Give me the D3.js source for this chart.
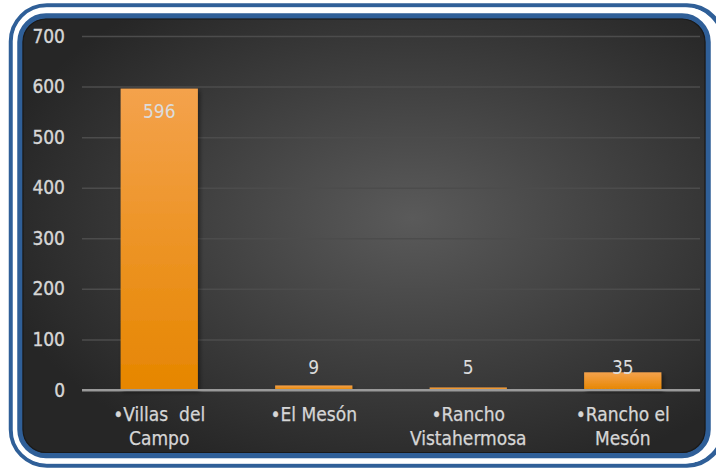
<!DOCTYPE html>
<html>
<head>
<meta charset="utf-8">
<script src="https://cdn.jsdelivr.net/npm/d3@7"></script>
<style>
  html, body { margin: 0; padding: 0; background: #ffffff; }
  svg { display: block; }
</style>
</head>
<body>
<svg id="chart" width="716" height="469"></svg>
<script>
// Population by locality
const categories = [["•Villas  del", "Campo"], ["•El Mesón"], ["•Rancho", "Vistahermosa"], ["•Rancho el", "Mesón"]];
const values = [596, 9, 5, 35];
const yTicks = [0, 100, 200, 300, 400, 500, 600, 700];

const svg = d3.select("#chart");
const defs = svg.append("defs");

// Panel background: dark with a soft lighter centre
const bg = defs.append("radialGradient").attr("id", "bg")
  .attr("cx", "57%").attr("cy", "46%").attr("r", "62%");
bg.append("stop").attr("offset", "0%").attr("stop-color", "#5a5a5a");
bg.append("stop").attr("offset", "100%").attr("stop-color", "#262626");

const barGrad = defs.append("linearGradient").attr("id", "bar")
  .attr("x1", 0).attr("y1", 0).attr("x2", 0).attr("y2", 1);
barGrad.append("stop").attr("offset", "0%").attr("stop-color", "#f4a24c");
barGrad.append("stop").attr("offset", "100%").attr("stop-color", "#e68600");

const shadow = defs.append("filter").attr("id", "shadow")
  .attr("x", "-20%").attr("y", "-20%").attr("width", "140%").attr("height", "140%");
shadow.append("feDropShadow").attr("dx", 2).attr("dy", 2).attr("stdDeviation", 2)
  .attr("flood-color", "#000").attr("flood-opacity", 0.45);

// Frame: outer blue ring, white gap, inner blue ring around the panel
svg.append("rect").attr("x", 11).attr("y", 5.5).attr("width", 712).attr("height", 460)
  .attr("rx", 36).attr("fill", "none").attr("stroke", "#2f5f98").attr("stroke-width", 4.5);
svg.append("rect").attr("x", 13.5).attr("y", 8).attr("width", 705).attr("height", 455)
  .attr("rx", 33).attr("fill", "none").attr("stroke", "#ffffff").attr("stroke-width", 1.5);
svg.append("rect").attr("x", 20).attr("y", 16).attr("width", 688).attr("height", 439.5)
  .attr("rx", 26).attr("fill", "url(#bg)").attr("stroke", "#2f5f98").attr("stroke-width", 5.5);
svg.append("rect").attr("x", 23).attr("y", 19).attr("width", 682).attr("height", 433.5)
  .attr("rx", 23).attr("fill", "none").attr("stroke", "#1a1a1a").attr("stroke-width", 1.2);

const margin = { left: 82, right: 700, top: 36, bottom: 390 };
const x = d3.scaleBand().domain(d3.range(values.length))
  .range([margin.left, margin.right]).paddingInner(0.5).paddingOuter(0.25);
const y = d3.scaleLinear().domain([0, 700]).range([margin.bottom, margin.top]);

const font = "'DejaVu Sans Condensed', 'DejaVu Sans', sans-serif";
const textColor = "#d6d6d6";

// Gridlines and value axis
const yAxis = svg.append("g")
  .attr("transform", `translate(${margin.left},0)`)
  .call(d3.axisLeft(y).tickValues(yTicks).tickSize(-(margin.right - margin.left)).tickPadding(17));
yAxis.select(".domain").remove();
yAxis.selectAll(".tick line")
  .attr("stroke", d => d === 0 ? "#9a9a9a" : "#4c4c4c")
  .attr("stroke-width", d => d === 0 ? 2 : 1.5);
yAxis.selectAll(".tick text")
  .attr("fill", textColor).attr("stroke", textColor).attr("stroke-width", 0.35)
  .attr("font-family", font).attr("font-size", 19);

// Bars
svg.append("g").selectAll("rect").data(values).join("rect")
  .attr("x", (d, i) => x(i))
  .attr("y", d => y(d))
  .attr("width", x.bandwidth())
  .attr("height", d => y(0) - y(d))
  .attr("fill", "url(#bar)")
  .attr("filter", "url(#shadow)");

// Re-draw the zero line over the bars' base
svg.append("line").attr("x1", margin.left).attr("x2", margin.right)
  .attr("y1", y(0)).attr("y2", y(0)).attr("stroke", "#9a9a9a").attr("stroke-width", 2);

// Data labels: inside the top of tall bars, just above the axis for short ones
svg.append("g").selectAll("text").data(values).join("text")
  .attr("x", (d, i) => x(i) + x.bandwidth() / 2)
  .attr("y", d => d > 100 ? y(d) + 29 : y(0) - 16)
  .attr("text-anchor", "middle")
  .attr("fill", "#dcdcdc")
  .attr("font-family", font).attr("font-size", 19)
  .text(d => d);

// Category labels
const cat = svg.append("g").selectAll("text").data(categories).join("text")
  .attr("x", (d, i) => x(i) + x.bandwidth() / 2)
  .attr("y", 421)
  .attr("text-anchor", "middle")
  .attr("fill", textColor).attr("stroke", textColor).attr("stroke-width", 0.25)
  .attr("font-family", font).attr("font-size", 19)
  .attr("xml:space", "preserve");
cat.selectAll("tspan").data(d => d).join("tspan")
  .attr("x", function () { return d3.select(this.parentNode).attr("x"); })
  .attr("dy", (d, i) => i === 0 ? 0 : 23.5)
  .text(d => d);
</script>
</body>
</html>
